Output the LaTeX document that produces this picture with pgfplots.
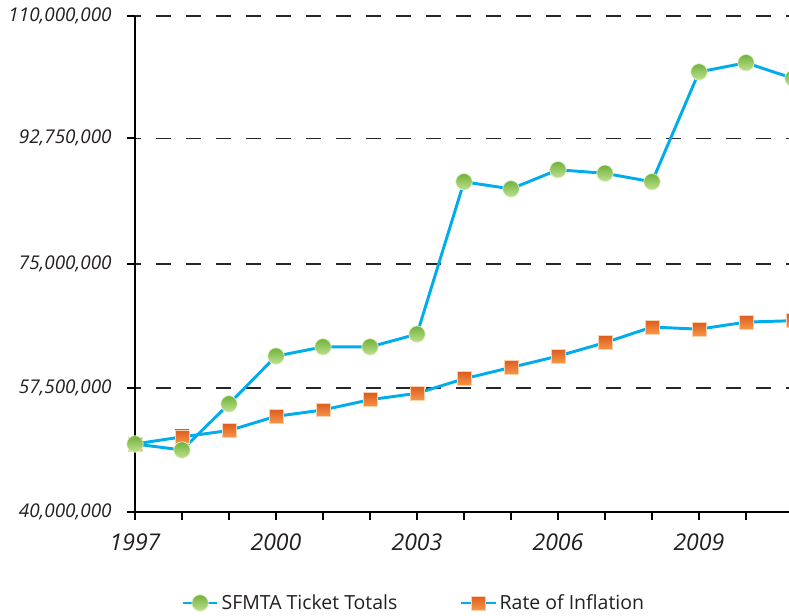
\documentclass[border=0pt]{standalone}
\usepackage{pgfplots}
\pgfplotsset{compat=1.18}
\usepackage{fontspec}
\setmainfont{Open Sans}
\definecolor{lineblue}{RGB}{0,172,236}
\definecolor{gtop}{RGB}{112,178,58}
\definecolor{gbot}{RGB}{192,225,145}
\definecolor{otop}{RGB}{220,92,32}
\definecolor{obot}{RGB}{247,150,70}
\definecolor{txt}{RGB}{35,31,32}
\pgfdeclareverticalshading{gshade}{100bp}{color(0bp)=(gbot); color(25bp)=(gbot); color(75bp)=(gtop); color(100bp)=(gtop)}
\pgfdeclareverticalshading{oshade}{100bp}{color(0bp)=(obot); color(25bp)=(obot); color(75bp)=(otop); color(100bp)=(otop)}
\pgfdeclareplotmark{gball}{%
  \pgfpathcircle{\pgfpointorigin}{\pgfplotmarksize}%
  \pgfshadepath{gshade}{0}%
  \pgfusepathqstroke
}
\pgfdeclareplotmark{osq}{%
  \pgfpathrectanglecorners{\pgfpoint{-\pgfplotmarksize}{-\pgfplotmarksize}}{\pgfpoint{\pgfplotmarksize}{\pgfplotmarksize}}%
  \pgfshadepath{oshade}{0}%
  \pgfusepathqstroke
}
\pgfplotsset{
  gser/.style={color=lineblue, line width=2.2pt, mark=gball, mark size=6.2pt, mark options={draw=white!55!gbot, line width=0.5pt}},
  oser/.style={color=lineblue, line width=2.2pt, mark=osq, mark size=5.2pt, mark options={draw=white!55!obot, line width=0.6pt}},
}
\begin{document}
\begin{tikzpicture}
\begin{axis}[
  name=ax,
  scale only axis, width=490.5pt, height=372pt,
  xmin=1997, xmax=2010.915, ymin=40000000, ymax=110000000,
  axis x line*=bottom, axis y line*=left,
  axis line style={line width=1.5pt, black},
  xtick={1997,...,2010},
  xticklabels={1997,,,2000,,,2003,,,2006,,,2009,},
  ytick={40000000,57500000,75000000,92750000,110000000},
  yticklabels={{40,000,000},{57,500,000},{75,000,000},{92,750,000},{110,000,000}},
  scaled y ticks=false,
  /pgf/number format/assume math mode=true,
  tick align=outside, major tick length=6pt,
  tick style={line width=1.5pt, black},
  ymajorgrids,
  major grid style={dash pattern=on 11pt off 11.5pt, dash phase=6.75pt, line width=0.9pt, black!85},
  xticklabel style={font=\fontsize{17.3}{20}\selectfont\itshape, text=txt, yshift=-6.5pt},
  yticklabel style={font=\fontsize{14.2}{17}\selectfont\itshape, text=txt, xshift=-8pt},
  clip=false,
  legend style={draw=none, fill=none, legend columns=2, at={(0.4266,-0.1835)}, anchor=center,
    font=\fontsize{14.6}{17}\selectfont, text=txt,
    /tikz/every even column/.append style={column sep=44.5pt}},
  legend image code/.code={\draw[mark repeat=2, mark phase=2] plot coordinates {(0pt,0pt) (13pt,0pt) (26pt,0pt)};},
]
\addlegendimage{gser}
\addlegendentry{SFMTA Ticket Totals}
\addlegendimage{oser}
\addlegendentry{Rate of Inflation}
\addplot[oser, forget plot] coordinates {
(1997,49600000) (1998,50600000) (1999,51500000) (2000,53500000) (2001,54400000)
(2002,55850000) (2003,56750000) (2004,58800000) (2005,60400000) (2006,62000000)
(2007,63900000) (2008,66100000) (2009,65800000) (2010,66800000) (2011,67000000)};
\addplot[gser, forget plot] coordinates {
(1997,49600000) (1998,48750000) (1999,55250000) (2000,62000000) (2001,63300000)
(2002,63300000) (2003,65100000) (2004,86600000) (2005,85600000) (2006,88300000)
(2007,87800000) (2008,86600000) (2009,102100000) (2010,103400000) (2011,101200000)};
\end{axis}
\pgfresetboundingbox
\path[use as bounding box] ([xshift=-101.25pt,yshift=-78pt]ax.south west) rectangle ([yshift=12pt]ax.north east);
\end{tikzpicture}
\end{document}
